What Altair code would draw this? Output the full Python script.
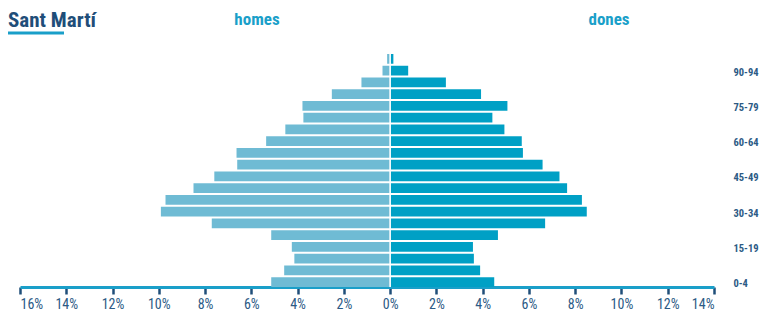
import altair as alt
import pandas as pd

ages = ["0-4", "5-9", "10-14", "15-19", "20-24", "25-29", "30-34", "35-39",
        "40-44", "45-49", "50-54", "55-59", "60-64", "65-69", "70-74",
        "75-79", "80-84", "85-89", "90-94", "95+"]
homes = [5.14, 4.58, 4.14, 4.25, 5.14, 7.71, 9.91, 9.71, 8.50, 7.60,
         6.61, 6.64, 5.36, 4.53, 3.75, 3.79, 2.52, 1.24, 0.33, 0.13]
dones = [4.50, 3.89, 3.62, 3.58, 4.66, 6.70, 8.50, 8.29, 7.65, 7.32,
         6.59, 5.74, 5.69, 4.94, 4.42, 5.07, 3.93, 2.41, 0.78, 0.14]
x_ticks = list(range(-16, 15, 2))
y_labels = ["0-4", "15-19", "30-34", "45-49", "60-64", "75-79", "90-94"]
title_text = "Sant Martí"
sexes = ["homes", "dones"]

rows = []
for a, h, d in zip(ages, homes, dones):
    rows.append({"age": a, "sexe": "homes", "val": -h})
    rows.append({"age": a, "sexe": "dones", "val": d})
df = pd.DataFrame(rows)

FONT = "Roboto Condensed, Liberation Sans Narrow, DejaVu Sans Condensed, Roboto, sans-serif"
NAVY = "#1f4e79"
TEAL = "#1a9fc9"

x = alt.X("val:Q",
          scale=alt.Scale(domain=[-16, 14], nice=False),
          axis=alt.Axis(values=x_ticks,
                        labelExpr="format(abs(datum.value),'d') + '%'",
                        title=None, grid=False,
                        domainColor=TEAL, domainWidth=3,
                        tickColor=NAVY, tickWidth=2.5, tickSize=7,
                        labelColor="#2c5a85", labelFont=FONT,
                        labelFontSize=14, labelPadding=3))
y = alt.Y("age:N", sort=ages[::-1],
          scale=alt.Scale(paddingInner=0.17, paddingOuter=0),
          axis=alt.Axis(orient="right", values=y_labels, domain=False,
                        ticks=False, labelAlign="left", labelPadding=19,
                        labelFont=FONT, labelFontSize=10.5,
                        labelFontWeight="bold", labelColor="#2c5a85",
                        labelOffset=2, title=None))
color = alt.Color("sexe:N",
                  scale=alt.Scale(domain=sexes, range=["#6fbbd4", "#00a0c5"]),
                  legend=None)

bars = alt.Chart(df).mark_bar().encode(x=x, y=y, color=color)

zero_rule = alt.Chart(pd.DataFrame({"z": [0]})).mark_rule(
    color="white", strokeWidth=1.6).encode(x="z:Q")

title = alt.Chart(pd.DataFrame({"t": [title_text]})).mark_text(
    font=FONT, fontSize=21, fontWeight="bold", color=NAVY,
    align="left", baseline="alphabetic").encode(
    text="t:N", x=alt.value(-12), y=alt.value(-27))

underline = alt.Chart(pd.DataFrame({"t": [title_text]})).mark_rule(
    color=TEAL, strokeWidth=3).encode(
    x=alt.value(-12), x2=alt.value(44), y=alt.value(-21))

hdr = pd.DataFrame({"t": sexes, "px": [237, 589]})
headers = alt.Chart(hdr).mark_text(
    font=FONT, fontSize=17, fontWeight="bold", color=TEAL,
    align="center", baseline="alphabetic").encode(
    text="t:N", x=alt.X("px:Q", scale=None), y=alt.value(-29))

chart = alt.layer(bars, zero_rule, title, underline, headers).properties(
    width=694, height=233,
    autosize=alt.AutoSizeParams(type="none"),
    padding={"left": 12, "top": 46, "right": 47, "bottom": 27},
).configure_view(stroke=None)

chart.save("out.html", embed_options={"renderer": "svg", "actions": False})
